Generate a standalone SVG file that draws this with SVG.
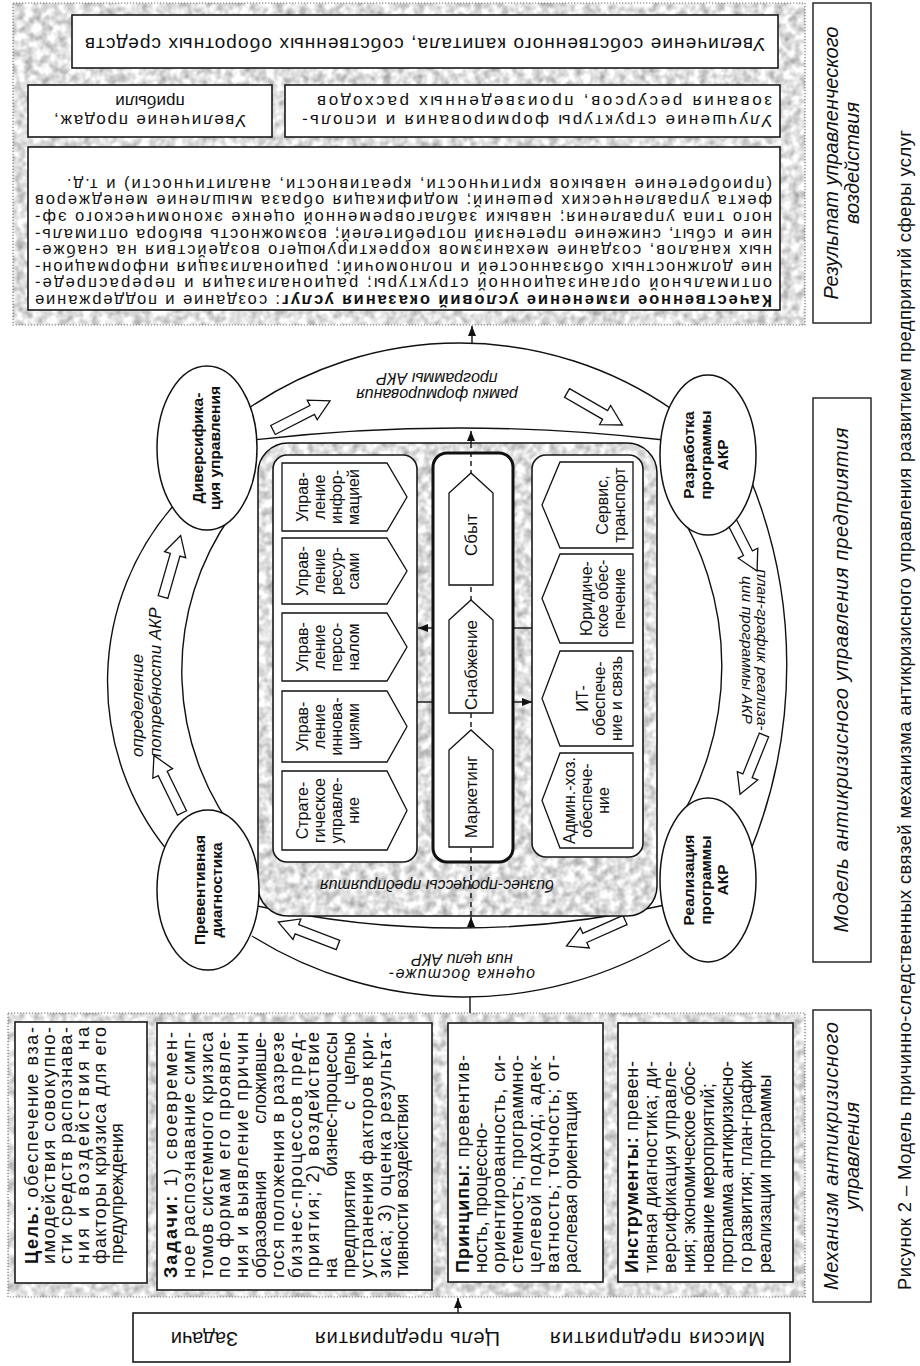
<svg xmlns="http://www.w3.org/2000/svg" width="920" height="1366" viewBox="0 0 920 1366">
<defs>
<style>
text{font-family:"Liberation Sans",Arial,sans-serif;fill:#111}
.f15{font-size:15.5px}
.f16{font-size:16px}
.f17{font-size:17px}
.f18{font-size:18px}
.f19{font-size:19px}
.f20{font-size:20px}
.b{font-weight:bold}
.i{font-style:italic}
.bx{fill:#fff;stroke:#1a1a1a;stroke-width:1.6}
.lbl{fill:#fff;stroke:#1a1a1a;stroke-width:1.4}
.dot{fill:none;stroke:#777;stroke-width:1.2;stroke-dasharray:1.2 1.8}
.ring{fill:none;stroke:#111;stroke-width:1.4}
.ov{fill:#fff;stroke:#111;stroke-width:1.5}
.ha{fill:#fff;stroke:#111;stroke-width:1.3}
.pg{fill:#fff;stroke:#111;stroke-width:1.3}
.cn{fill:none;stroke:#111;stroke-width:1.4}
.ds{stroke-dasharray:5 4}
</style>
<filter id="tex" x="0" y="0" width="1" height="1" color-interpolation-filters="sRGB">
<feTurbulence type="fractalNoise" baseFrequency="0.12" numOctaves="2" seed="4"/>
<feColorMatrix type="matrix" values="0.6 0 0 0 0.58 0.6 0 0 0 0.58 0.6 0 0 0 0.58 0 0 0 0 1"/>
<feComposite in2="SourceGraphic" operator="in"/>
</filter>
<marker id="ah" viewBox="0 0 10 8" refX="10" refY="4" markerWidth="10" markerHeight="8" markerUnits="userSpaceOnUse" orient="auto"><path d="M0,0 L10,4 L0,8 Z" fill="#111"/></marker>
<path id="harrow" d="M0,-5 H44 V-11 L64,0 L44,11 V5 H0 Z"/>
</defs>
<rect width="920" height="1366" fill="#fff"/>

<!-- Result panel -->
<g id="result-panel">
<rect x="13" y="3" width="792" height="322" fill="#e6e6e6" filter="url(#tex)"/>
<rect x="13" y="3" width="792" height="322" class="dot"/>
</g>
<g id="res-capital">
<rect class="bx" x="72" y="15" width="706" height="53"/>
<g transform="translate(778,68) rotate(180)"><text class="f19" x="353" y="30.5" text-anchor="middle" textLength="680">Увеличение собственного капитала, собственных оборотных средств</text></g>
</g>
<g id="res-sales">
<rect class="bx" x="28" y="85" width="244" height="52"/>
<g transform="translate(272,137) rotate(180)" class="f17" text-anchor="middle">
<text x="122" y="22" textLength="192">Увеличение продаж,</text>
<text x="122" y="41">прибыли</text>
</g>
</g>
<g id="res-structure">
<rect class="bx" x="285" y="85" width="495" height="52"/>
<g transform="translate(780,137) rotate(180)" class="f17">
<text x="8" y="22" textLength="470">Улучшение структуры формирования и исполь-</text>
<text x="8" y="41" textLength="455">зования ресурсов,  произведенных расходов</text>
</g>
</g>
<g id="res-quality">
<rect class="bx" x="28" y="147" width="752" height="163"/>
<g transform="translate(780,310) rotate(180)" style="font-size:16.5px">
<text x="8" y="15" textLength="737"><tspan class="b">Качественное изменение условий оказания услуг</tspan>: создание и поддержание</text>
<text x="8" y="31.6" textLength="737">оптимальной организационной структуры;  рационализация и перераспреде-</text>
<text x="8" y="48.2" textLength="737">ние должностных обязанностей и полномочий;  рационализация информацион-</text>
<text x="8" y="64.8" textLength="737">ных каналов,  создание механизмов корректирующего воздействия на снабже-</text>
<text x="8" y="81.4" textLength="737">ние и сбыт, снижение претензий потребителей; возможность выбора оптималь-</text>
<text x="8" y="98" textLength="737">ного типа управления; навыки заблаговременной оценке экономического эф-</text>
<text x="8" y="114.6" textLength="737">фекта управленческих решений; модификация образа мышление менеджеров</text>
<text x="8" y="131.2" textLength="705">(приобретение навыков критичности, креативности, аналитичности) и т.д.</text>
</g>
</g>

<!-- Side labels -->
<g id="lbl-result">
<rect class="lbl" x="813" y="3" width="58" height="320"/>
<g transform="translate(813,323) rotate(-90)" class="i f20" text-anchor="middle">
<text x="160" y="25">Результат управленческого</text>
<text x="160" y="46">воздействия</text>
</g>
</g>
<g id="lbl-model">
<rect class="lbl" x="813" y="398" width="58" height="564"/>
<g transform="translate(813,962) rotate(-90)"><text class="i f20" x="282" y="35" text-anchor="middle" textLength="505">Модель антикризисного управления предприятия</text></g>
</g>
<g id="lbl-mech">
<rect class="lbl" x="813" y="1010" width="58" height="292"/>
<g transform="translate(813,1302) rotate(-90)" class="i f20" text-anchor="middle">
<text x="146" y="25" textLength="268">Механизм антикризисного</text>
<text x="146" y="46">управления</text>
</g>
</g>
<text id="caption" transform="translate(911,1290) rotate(-90)" style="font-size:18.5px" textLength="1160">Рисунок 2 – Модель причинно-следственных связей механизма антикризисного управления развитием предприятий сферы услуг</text>

<!-- Mechanism panel -->
<g id="mech-panel">
<rect x="8" y="1013" width="797" height="284" fill="#e6e6e6" filter="url(#tex)"/>
<rect x="8" y="1013" width="797" height="284" class="dot"/>
</g>

<!-- Ring -->
<g id="ring" class="ring">
<path d="M246,410 A374,374 0 0 1 673,410"/>
<path d="M253,440 A1766,1766 0 0 1 664,440"/>
<path d="M750,478 A494,494 0 0 1 750,852"/>
<path d="M669,496 A300,300 0 0 1 669,836"/>
<path d="M670,940 A400,400 0 0 1 252,936"/>
<path d="M665,905 A934,934 0 0 1 253,905"/>
<path d="M167,850 A268,268 0 0 1 174,505"/>
<path d="M243,842 A270,270 0 0 1 232,514"/>
</g>
<g id="cycle-arrows" class="ha">
<use href="#harrow" transform="translate(182,813) rotate(-116)"/>
<use href="#harrow" transform="translate(163,597) rotate(-74)"/>
<use href="#harrow" transform="translate(273,430) rotate(-27)"/>
<use href="#harrow" transform="translate(567,393) rotate(30)"/>
<use href="#harrow" transform="translate(728,514) rotate(63)"/>
<use href="#harrow" transform="translate(764,735) rotate(112)"/>
<use href="#harrow" transform="translate(625,920) rotate(156)"/>
<use href="#harrow" transform="translate(338,945) rotate(-159)"/>
</g>
<g id="ring-labels" class="i">
<g class="f17">
<text transform="translate(143,757) rotate(-90)">определение</text>
<text transform="translate(161,757) rotate(-90)">потребности АКР</text>
</g>
<g transform="translate(437,389) rotate(180)" class="f16" text-anchor="middle">
<text y="0">рамки формирования</text>
<text y="16">программы АКР</text>
</g>
<g transform="translate(757,650) rotate(90)" style="font-size:15.5px" text-anchor="middle">
<text y="0">план-график реализа-</text>
<text y="15">ции программы АКР</text>
</g>
<g transform="translate(462,969) rotate(180)" class="f16" text-anchor="middle">
<text y="0" textLength="146">оценка достиже-</text>
<text y="15">ния цели АКР</text>
</g>
</g>

<!-- Business process panel -->
<g id="bp-panel">
<rect x="258" y="443" width="399" height="473" rx="30" fill="#e6e6e6" filter="url(#tex)"/>
<rect x="258" y="443" width="399" height="473" rx="30" fill="none" stroke="#111" stroke-width="1.5"/>
<g transform="translate(437,880) rotate(180)"><text class="i f16" text-anchor="middle">бизнес-процессы предприятия</text></g>
</g>
<g id="grp-mgmt"><rect class="bx" x="273" y="455" width="144" height="407" rx="14"/></g>
<g id="grp-core"><rect x="433" y="453" width="80" height="409" rx="14" fill="#fff" stroke="#111" stroke-width="3"/></g>
<g id="grp-support"><rect class="bx" x="532" y="455" width="111" height="402" rx="14"/></g>

<!-- Connectors -->
<g id="connectors" class="cn">
<path d="M472,343 V326" marker-end="url(#ah)"/>
<path d="M471,916 V447" class="ds"/>
<path d="M471,447 V431" marker-end="url(#ah)"/>
<path d="M471,928 V917" marker-end="url(#ah)"/>
<path d="M470,997 V1013"/>
<path d="M458,1313 V1298" marker-end="url(#ah)"/>
<path d="M433,628 H418" marker-end="url(#ah)"/>
<path d="M417,702 H433"/>
<path d="M513,628 H532"/>
<path d="M513,702 H532" marker-end="url(#ah)"/>
</g>

<!-- Cycle nodes -->
<g id="node-diversification">
<ellipse class="ov" cx="207" cy="448" rx="50" ry="82"/>
<g transform="translate(207,448) rotate(-90)" class="b f15" text-anchor="middle">
<text y="-4">Диверсифика-</text><text y="13">ция управления</text>
</g>
</g>
<g id="node-diagnostics">
<ellipse class="ov" cx="208" cy="890" rx="51" ry="80"/>
<g transform="translate(208,890) rotate(-90)" class="b f15" text-anchor="middle">
<text y="-3">Превентивная</text><text y="14">диагностика</text>
</g>
</g>
<g id="node-development">
<ellipse class="ov" cx="708" cy="455" rx="48" ry="80"/>
<g transform="translate(706,455) rotate(-90)" class="b f15" text-anchor="middle">
<text y="-12.5">Разработка</text><text y="4.5">программы</text><text y="21.5">АКР</text>
</g>
</g>
<g id="node-implementation">
<ellipse class="ov" cx="708" cy="880" rx="48" ry="82"/>
<g transform="translate(706,880) rotate(-90)" class="b f15" text-anchor="middle">
<text y="-12.5">Реализация</text><text y="4.5">программы</text><text y="21.5">АКР</text>
</g>
</g>

<!-- Management functions -->
<g id="n-info">
<path class="pg" d="M282,463 H387 L407,497 L387,531 H282 Z"/>
<g transform="translate(282,531) rotate(-90)" class="f16" text-anchor="middle">
<text x="34" y="26">Управ-</text><text x="34" y="43">ление</text><text x="34" y="60">инфор-</text><text x="34" y="77">мацией</text>
</g>
</g>
<g id="n-resources">
<path class="pg" d="M282,538 H387 L407,571 L387,604 H282 Z"/>
<g transform="translate(282,604) rotate(-90)" class="f16" text-anchor="middle">
<text x="33" y="26">Управ-</text><text x="33" y="43">ление</text><text x="33" y="60">ресур-</text><text x="33" y="77">сами</text>
</g>
</g>
<g id="n-personnel">
<path class="pg" d="M282,613 H387 L407,647 L387,681 H282 Z"/>
<g transform="translate(282,681) rotate(-90)" class="f16" text-anchor="middle">
<text x="34" y="26">Управ-</text><text x="34" y="43">ление</text><text x="34" y="60">персо-</text><text x="34" y="77">налом</text>
</g>
</g>
<g id="n-innovation">
<path class="pg" d="M282,691 H387 L407,726.5 L387,762 H282 Z"/>
<g transform="translate(282,762) rotate(-90)" class="f16" text-anchor="middle">
<text x="35.5" y="26">Управ-</text><text x="35.5" y="43">ление</text><text x="35.5" y="60">иннова-</text><text x="35.5" y="77">циями</text>
</g>
</g>
<g id="n-strategy">
<path class="pg" d="M282,771 H387 L407,810.5 L387,850 H282 Z"/>
<g transform="translate(282,850) rotate(-90)" class="f16" text-anchor="middle">
<text x="39.5" y="26">Страте-</text><text x="39.5" y="43">гическое</text><text x="39.5" y="60">управле-</text><text x="39.5" y="77">ние</text>
</g>
</g>

<!-- Core processes -->
<g id="n-sales">
<path class="pg" d="M449,585 V493 L471,473 L493,493 V585 Z"/>
<text class="f17" transform="translate(477,535) rotate(-90)" text-anchor="middle">Сбыт</text>
</g>
<g id="n-supply">
<path class="pg" d="M449,713 V620 L471,600 L493,620 V713 Z"/>
<text class="f17" transform="translate(477,665) rotate(-90)" text-anchor="middle">Снабжение</text>
</g>
<g id="n-marketing">
<path class="pg" d="M449,847 V750 L471,730 L493,750 V847 Z"/>
<text class="f17" transform="translate(477,797) rotate(-90)" text-anchor="middle">Маркетинг</text>
</g>

<!-- Support processes -->
<g id="n-service">
<path class="pg" d="M633,462 H560 L542,505 L560,548 H633 Z"/>
<g transform="translate(542,548) rotate(-90)" class="f16" text-anchor="middle">
<text x="43" y="66">Сервис,</text><text x="43" y="83">транспорт</text>
</g>
</g>
<g id="n-legal">
<path class="pg" d="M633,554 H560 L542,598.5 L560,643 H633 Z"/>
<g transform="translate(542,643) rotate(-90)" class="f16" text-anchor="middle">
<text x="44.5" y="50">Юридиче-</text><text x="44.5" y="66">ское обес-</text><text x="44.5" y="83">печение</text>
</g>
</g>
<g id="n-it">
<path class="pg" d="M633,651 H560 L542,698.5 L560,746 H633 Z"/>
<g transform="translate(542,746) rotate(-90)" class="f16" text-anchor="middle">
<text x="47.5" y="46">ИТ-</text><text x="47.5" y="63">обеспече-</text><text x="47.5" y="80">ние и связь</text>
</g>
</g>
<g id="n-admin">
<path class="pg" d="M633,753 H560 L542,800.5 L560,848 H633 Z"/>
<g transform="translate(542,848) rotate(-90)" class="f16" text-anchor="middle">
<text x="47.5" y="33">Админ.-хоз.</text><text x="47.5" y="50">обеспече-</text><text x="47.5" y="67">ние</text>
</g>
</g>

<!-- Mechanism boxes -->
<g id="mech-goal">
<rect class="bx" x="15" y="1022" width="132" height="261"/>
<g transform="translate(15,1283) rotate(-90)" class="f18">
<text x="19" y="23" textLength="237"><tspan class="b">Цель:</tspan> обеспечение вза-</text>
<text x="19" y="40" textLength="237">имодействия совокупно-</text>
<text x="19" y="57" textLength="237">сти средств распознава-</text>
<text x="19" y="74" textLength="237">ния и воздействия на</text>
<text x="19" y="91" textLength="237">факторы кризиса для его</text>
<text x="19" y="108">предупреждения</text>
</g>
</g>
<g id="mech-tasks">
<rect class="bx" x="157" y="1023" width="275" height="267"/>
<g transform="translate(157,1290) rotate(-90)" class="f18">
<text x="12" y="20" textLength="246"><tspan class="b">Задачи:</tspan>  1)  своевремен-</text>
<text x="12" y="37.8" textLength="246">ное  распознавание  симп-</text>
<text x="12" y="55.6" textLength="246">томов системного кризиса</text>
<text x="12" y="73.4" textLength="246">по  формам  его  проявле-</text>
<text x="12" y="91.2" textLength="246">ния и выявление причин</text>
<text x="12" y="109">образования</text><text x="258" y="109" text-anchor="end">сложивше-</text>
<text x="12" y="126.8" textLength="246">гося положения в разрезе</text>
<text x="12" y="144.6" textLength="246">бизнес-процессов  пред-</text>
<text x="12" y="162.4" textLength="246">приятия;  2)  воздействие</text>
<text x="12" y="180.2">на</text><text x="258" y="180.2" text-anchor="end">бизнес-процессы</text>
<text x="12" y="198">предприятия</text><text x="180" y="198">с</text><text x="258" y="198" text-anchor="end">целью</text>
<text x="12" y="215.8" textLength="246">устранения факторов кри-</text>
<text x="12" y="233.6" textLength="246">зиса; 3) оценка результа-</text>
<text x="12" y="251.4">тивности воздействия</text>
</g>
</g>
<g id="mech-principles">
<rect class="bx" x="448" y="1023" width="155" height="259"/>
<g transform="translate(448,1282) rotate(-90)" class="f18">
<text x="9" y="21" textLength="218"><tspan class="b">Принципы:</tspan> превентив-</text>
<text x="9" y="39">ность, процессно-</text>
<text x="9" y="57" textLength="218">ориентированность, си-</text>
<text x="9" y="75" textLength="218">стемность; программно-</text>
<text x="9" y="93" textLength="218">целевой подход; адек-</text>
<text x="9" y="111" textLength="218">ватность; точность; от-</text>
<text x="9" y="129">раслевая ориентация</text>
</g>
</g>
<g id="mech-tools">
<rect class="bx" x="618" y="1023" width="175" height="259"/>
<g transform="translate(618,1282) rotate(-90)" class="f18">
<text x="9" y="20" textLength="212"><tspan class="b">Инструменты:</tspan> превен-</text>
<text x="9" y="39" textLength="212">тивная диагностика; ди-</text>
<text x="9" y="58" textLength="212">версификация управле-</text>
<text x="9" y="77" textLength="212">ния; экономическое обос-</text>
<text x="9" y="96">нование мероприятий;</text>
<text x="9" y="115" textLength="212">программа антикризисно-</text>
<text x="9" y="134" textLength="212">го развития; план-график</text>
<text x="9" y="153">реализации программы</text>
</g>
</g>

<!-- Mission -->
<g id="mission">
<rect class="bx" x="133" y="1313" width="657" height="49"/>
<g transform="translate(790,1362) rotate(180)" class="f20">
<text x="25" y="30" textLength="215">Миссия предприятия</text>
<text x="290" y="30" textLength="185">Цель предприятия</text>
<text x="552" y="30">Задачи</text>
</g>
</g>
</svg>
